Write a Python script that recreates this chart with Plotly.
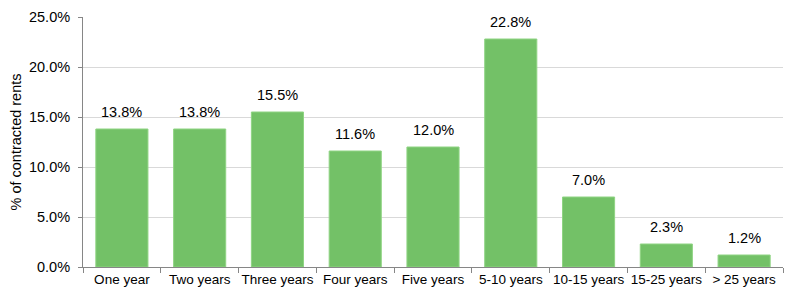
import plotly.graph_objects as go

categories = ["One year", "Two years", "Three years", "Four years", "Five years",
              "5-10 years", "10-15 years", "15-25 years", "> 25 years"]
values = [13.8, 13.8, 15.5, 11.6, 12.0, 22.8, 7.0, 2.3, 1.2]
labels = [f"{v:.1f}%" for v in values]

FONT = "Liberation Sans, Arial"

fig = go.Figure(go.Bar(
    x=categories, y=values,
    marker=dict(color="#73C167", line=dict(color="#8fd483", width=1)),
))
for c, v, t in zip(categories, values, labels):
    fig.add_annotation(x=c, y=v, text=t, showarrow=False, yanchor="bottom",
                       yshift=7, font=dict(size=14.5, family=FONT, color="#000"))
fig.update_layout(
    width=800, height=292,
    margin=dict(l=83, r=17, t=17, b=25),
    plot_bgcolor="white", paper_bgcolor="white",
    bargap=0.33,
    showlegend=False,
    font=dict(family=FONT, size=14, color="#000000"),
)
fig.update_yaxes(
    range=[0, 25], dtick=5, tickformat=".1f", ticksuffix="%",
    showgrid=True, gridcolor="#d9d9d9", gridwidth=1,
    showline=True, linecolor="#868686", linewidth=1,
    ticks="outside", ticklen=4, tickcolor="#868686",
    tickfont=dict(size=14.5), ticklabelstandoff=5,
    title=dict(text="% of contracted rents", font=dict(size=14.5), standoff=3),
    zeroline=False, automargin=False,
)
fig.update_xaxes(
    showline=True, linecolor="#868686", linewidth=1,
    ticks="outside", ticklen=5, tickcolor="#868686", tickson="boundaries",
    tickfont=dict(size=13.5), tickangle=0, automargin=False,
)
fig.write_html("out.html")
